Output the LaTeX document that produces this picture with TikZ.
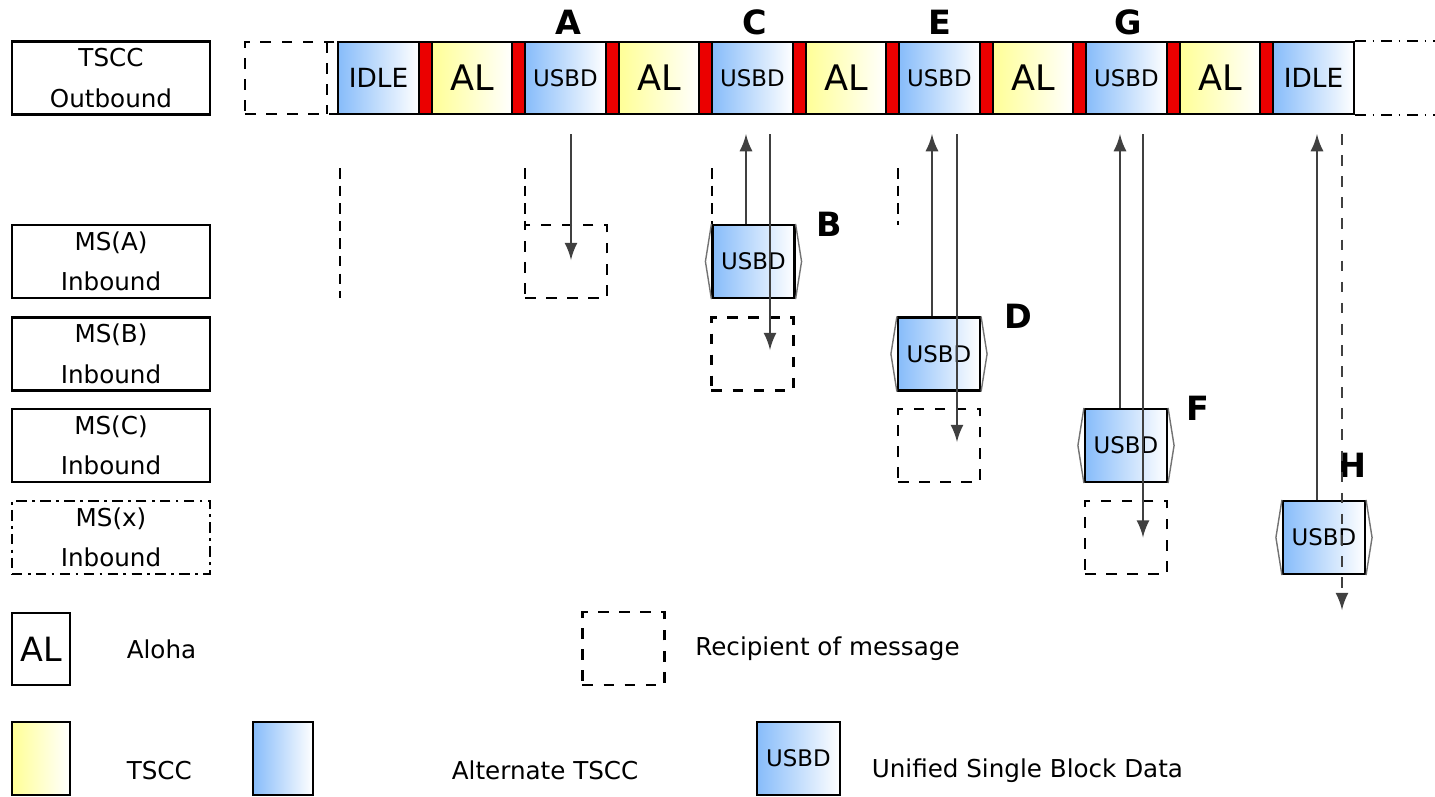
\documentclass[tikz,border=0pt]{standalone}
\usepackage{fontspec}
\setmainfont{DejaVu Sans}
\usetikzlibrary{positioning}

\definecolor{altblue}{RGB}{135,188,250}
\definecolor{tsccyellow}{RGB}{255,255,150}
\definecolor{sepred}{RGB}{235,0,0}

\tikzset{
  rowlabel/.style={draw, line width=0.6pt, minimum width=1.98cm, minimum height=0.73cm,
    inner sep=0pt, align=center, font=\fontsize{7}{11.5}\selectfont},
  slot/.style={draw, line width=0.6pt, minimum width=0.81cm, minimum height=0.72cm, inner sep=0pt},
  altslot/.style={slot, left color=altblue, right color=white},
  idleslot/.style={altslot, font=\fontsize{7.5}{9}\selectfont},
  usbdslot/.style={altslot, font=\fontsize{6.5}{8}\selectfont},
  alslot/.style={slot, left color=tsccyellow, right color=white, font=\fontsize{10}{12}\selectfont},
  redsep/.style={draw, line width=0.4pt, fill=sepred, minimum width=0.125cm, minimum height=0.72cm, inner sep=0pt},
  usbd/.style={usbdslot, minimum width=0.82cm, minimum height=0.73cm},
  recipient/.style={draw, dashed, line width=0.6pt, minimum width=0.82cm, minimum height=0.73cm, inner sep=0pt},
  bracket/.style={line width=0.4pt, black!55},
  tag/.style={inner sep=0pt, font=\bfseries\fontsize{9.5}{11}\selectfont},
  msg/.style={->, line width=0.7pt, black!75},
  slotmark/.style={line width=0.5pt, dash pattern=on 3pt off 2pt},
  legendtext/.style={inner sep=0pt, font=\fontsize{7}{9}\selectfont}
}

\begin{document}
\begin{tikzpicture}[x=0.01cm, y=-0.01cm, >=latex]
		\useasboundingbox (0,0) rectangle (1435,796);

		% row labels on the left
		\node[rowlabel] (tscc) at (111,78) {TSCC\\Outbound};
		\node[rowlabel] (msa) at (111,261.5) {MS(A)\\Inbound};
		\node[rowlabel] (msb) at (111,354) {MS(B)\\Inbound};
		\node[rowlabel] (msc) at (111,445.5) {MS(C)\\Inbound};
		\node[rowlabel, dash pattern=on 3pt off 1.5pt on 0.8pt off 1.5pt] (msx) at (111,537.5) {MS(x)\\Inbound};

		% draw the outbound bar
		\node[recipient, minimum width=0.93cm, minimum height=0.72cm] (prev) at (291.5,78) {};
		\draw [dashed, line width=0.6pt] (327,42) -- (327,114);
		\foreach \i/\kind/\txt in {0/idleslot/IDLE, 1/alslot/AL, 2/usbdslot/USBD, 3/alslot/AL,
				4/usbdslot/USBD, 5/alslot/AL, 6/usbdslot/USBD, 7/alslot/AL, 8/usbdslot/USBD,
				9/alslot/AL, 10/idleslot/IDLE}
			\node[\kind] (s\i) at ({378.5+93.5*\i},78) {\txt};
		\foreach \i in {0,...,9}
			\node[redsep] (r\i) at ({425.25+93.5*\i},78) {};
		\draw [dashdotted, line width=0.6pt] (s10.north east) -- ++(81,0);
		\draw [dashdotted, line width=0.6pt] (s10.south east) -- ++(81,0);

		% slot tags
		\node[tag] (tagA) at (568,22) {A};
		\node[tag] (tagC) at (755,22) {C};
		\node[tag] (tagE) at (940,22) {E};
		\node[tag] (tagG) at (1128,22) {G};

		% slot markers
		\draw [slotmark] (340,168) -- (340,298);
		\draw [slotmark] (525,168) -- (525,225);
		\draw [slotmark] (712,168) -- (712,225);
		\draw [slotmark] (898,168) -- (898,225);

		% recipients and inbound blocks
		\node[recipient] (rA) at (566,261.5) {};
		\node[usbd] (B) at (753.5,261.5) {USBD};
		\node[recipient] (rB) at (752.5,354) {};
		\node[usbd] (D) at (939,354) {USBD};
		\node[recipient] (rC) at (939,445.5) {};
		\node[usbd] (F) at (1126,445.5) {USBD};
		\node[recipient] (rX) at (1126,537.5) {};
		\node[usbd] (H) at (1324,537.5) {USBD};
		\foreach \n in {B,D,F,H} {
			\draw [bracket] (\n.north west) -- ([shift={(-6,0)}]\n.west) -- (\n.south west);
			\draw [bracket] (\n.north east) -- ([shift={(6,0)}]\n.east) -- (\n.south east);
		}

		\node[tag, right=0.2cm of B.north east] (tagB) {B};
		\node[tag, right=0.23cm of D.north east] (tagD) {D};
		\node[tag, right=0.18cm of F.north east] (tagF) {F};
		\node[tag] (tagH) at (1352,465) {H};

		% draw the messages
		\draw [msg] ([shift={(5.5,19)}]s2.south) -- ([shift={(5,-1.5)}]rA.center);
		\draw [msg] ([shift={(-7.5,0)}]B.north) -- ([shift={(-6.5,19)}]s4.south);
		\draw [msg] ([shift={(17.5,19)}]s4.south) -- ([shift={(17.5,-4)}]rB.center);
		\draw [msg] ([shift={(-7,0)}]D.north) -- ([shift={(-7.5,19)}]s6.south);
		\draw [msg] ([shift={(17.5,19)}]s6.south) -- ([shift={(18,-3.5)}]rC.center);
		\draw [msg] ([shift={(-6,0)}]F.north) -- ([shift={(-6.5,19)}]s8.south);
		\draw [msg] ([shift={(16.5,19)}]s8.south) -- ([shift={(17,0)}]rX.center);
		\draw [msg] ([shift={(-7,0)}]H.north) -- ([shift={(3.5,19)}]s10.south);
		\coordinate (hend) at (1342,610);
		\draw [msg, dashed] ([shift={(28.5,19)}]s10.south) -- (hend);

		% legend
		\node[slot, minimum width=0.58cm, font=\fontsize{9.5}{12}\selectfont] (keyal) at (41,649) {AL};
		\node[legendtext, right=0.55cm of keyal] (txtal) {Aloha};
		\node[recipient] (keyrec) at (623.5,648.5) {};
		\node[legendtext, right=0.29cm of keyrec] (txtrec) {Recipient of message};
		\node[slot, minimum width=0.58cm, minimum height=0.73cm, left color=tsccyellow, right color=white] (keyts) at (41,758.5) {};
		\node[legendtext, right=0.55cm of keyts, yshift=-0.12cm] (txtts) {TSCC};
		\node[altslot, minimum width=0.6cm, minimum height=0.73cm] (keyalt) at (283,758.5) {};
		\node[legendtext, right=1.37cm of keyalt, yshift=-0.12cm] (txtalt) {Alternate TSCC};
		\node[usbd, minimum width=0.83cm] (keyusbd) at (798.5,758.5) {USBD};
		\node[legendtext, right=0.3cm of keyusbd, yshift=-0.12cm] (txtusbd) {Unified Single Block Data};
\end{tikzpicture}
\end{document}
